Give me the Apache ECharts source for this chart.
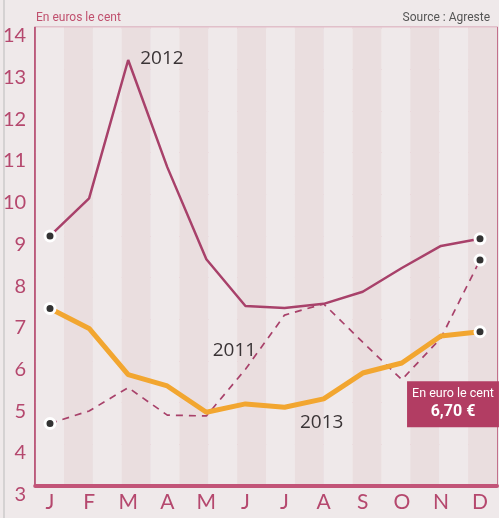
<!DOCTYPE html>
<html><head><meta charset="utf-8">
<script src="https://cdn.jsdelivr.net/npm/echarts@6/dist/echarts.min.js"></script>
<style>html,body{margin:0;padding:0;background:#efe9ea;}#c{width:499px;height:518px;}</style>
</head><body><div id="c"></div>
<script>
var months = ['J','F','M','A','M','J','J','A','S','O','N','D'];
var y2011 = [4.5, 4.8, 5.36, 4.7, 4.68, 5.8, 7.1, 7.37, 6.45, 5.55, 6.55, 8.42];
var y2012 = [9.0, 9.9, 13.22, 10.65, 8.44, 7.32, 7.27, 7.37, 7.66, 8.23, 8.76, 8.93];
var y2013 = [7.26, 6.78, 5.67, 5.4, 4.77, 4.97, 4.89, 5.09, 5.71, 5.95, 6.6, 6.7];
var yMin = 3, yMax = 14, yStep = 1;
var unitText = 'En euros le cent';
var sourceText = 'Source : Agreste';
var calloutText = 'En euro le cent';

var crimson = '#b5486e';
var lineCol = '#a8416a';
var orange = '#f2a630';
var cond = "Roboto,'Liberation Sans',sans-serif";

function endMarks(arr, labelIdx, labelCfg){
  return arr.map(function(v,i){
    var isEnd = (i===0||i===arr.length-1);
    var d = {value: v, symbol: isEnd?'circle':'none'};
    if(i===labelIdx){
      d.symbol = 'circle'; d.symbolSize = 2;
      d.itemStyle = {color:'rgba(0,0,0,0)', borderWidth:0, borderColor:'rgba(0,0,0,0)'};
      d.label = labelCfg;
    }
    return d;
  });
}
var yearLabel = function(txt, extra){
  return Object.assign({show:true, formatter: txt, color:'#3a3436', fontSize:19, fontFamily:"'Open Sans',sans-serif"}, extra);
};
var d2013 = endMarks(y2013, 7, yearLabel('2013', {position:'bottom', distance:5, offset:[-2,8]}));
var last = y2013.length-1;
d2013[last].label = {
  show:true, position:'bottom', distance:43, offset:[-27,0],
  backgroundColor:'#b23d63', padding:[4,5,5,5], align:'center',
  formatter: function(p){ return '{a|'+calloutText+'}\n{b|'+p.value.toFixed(2).replace('.',',')+' €}'; },
  rich:{
    a:{color:'#fff', fontSize:12.5, fontFamily:cond, lineHeight:17, align:'center'},
    b:{color:'#fff', fontSize:16, fontWeight:'bold', fontFamily:cond, lineHeight:20, align:'center'}
  }
};

var markerStyle = {color:'#333', borderColor:'#fff', borderWidth:3};

var option = {
  animation:false,
  backgroundColor:'#efe9ea',
  title:[
    {text:unitText, left:31, top:7, textStyle:{color:'#c0506e', fontSize:12, fontWeight:'normal', fontFamily:cond}},
    {text:sourceText, right:4, top:7, textStyle:{color:'#555', fontSize:12, fontWeight:'normal', fontFamily:cond}}
  ],
  graphic:[{type:'line', shape:{x1:4,y1:0,x2:4,y2:518}, style:{stroke:'#bbb', lineWidth:1}}],
  grid:[
    {left:34, right:2, top:27.5, bottom:32, show:true, borderColor:crimson, borderWidth:1.5, backgroundColor:'transparent'},
    {left:50, right:19, top:27.5, bottom:32}
  ],
  xAxis:[
    {gridIndex:0, type:'value', min:0, max:16, interval:1,
     axisLabel:{show:false}, axisTick:{show:false}, splitLine:{show:false},
     axisLine:{show:true, onZero:false, lineStyle:{color:'#c25478', width:4}},
     splitArea:{show:true, areaStyle:{color:['#efe9ea','#eadedf']}}},
    {gridIndex:1, type:'category', data:months, boundaryGap:false,
     axisLine:{show:false}, axisTick:{show:false},
     axisLabel:{color:crimson, fontSize:21, fontFamily:"Lato,sans-serif", margin:6, interval:0}}
  ],
  yAxis:[
    {gridIndex:0, type:'value', min:yMin, max:yMax, interval:yStep,
     axisLine:{show:true, lineStyle:{color:crimson, width:1.5}}, axisTick:{show:false},
     axisLabel:{color:crimson, fontSize:20, fontFamily:"Lato,sans-serif", margin:9, verticalAlign:'top', lineHeight:17},
     splitLine:{show:true, lineStyle:{color:'#e6bcc8', width:1}}},
    {gridIndex:1, type:'value', min:yMin, max:yMax, interval:yStep, show:false}
  ],
  series:[
    {name:'2011', type:'line', xAxisIndex:1, yAxisIndex:1, symbolSize:10,
     data:endMarks(y2011, 5, yearLabel('2011', {position:'top', distance:5, offset:[-11,-3]})),
     lineStyle:{color:lineCol, width:1.7, type:[7,6]}, itemStyle:markerStyle, z:3},
    {name:'2012', type:'line', xAxisIndex:1, yAxisIndex:1, symbolSize:10,
     data:endMarks(y2012, 2, yearLabel('2012', {position:'right', distance:10, offset:[1,-1]})),
     lineStyle:{color:lineCol, width:2.5}, itemStyle:markerStyle, z:4},
    {name:'2013', type:'line', xAxisIndex:1, yAxisIndex:1, symbolSize:10,
     data:d2013,
     lineStyle:{color:orange, width:5}, itemStyle:markerStyle, z:5}
  ]
};
var chart = echarts.init(document.getElementById('c'));
chart.setOption(option);
</script></body></html>
